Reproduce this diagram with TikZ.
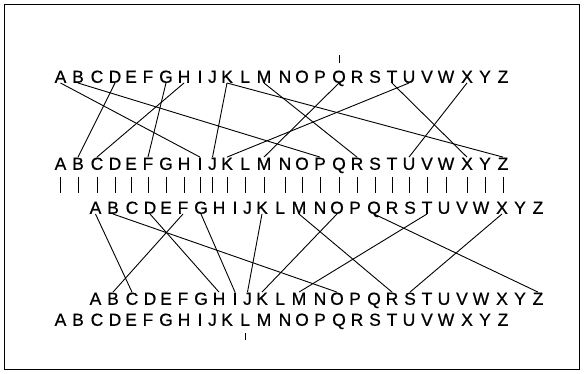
\documentclass[tikz,border=0pt]{standalone}
\usepackage{fontspec}
\setmainfont{Liberation Sans}
\newfontfamily\letterfont{Liberation Sans}[FakeBold=0.6]
\begin{document}
\begin{tikzpicture}[x=1pt,y=-1pt,
  letter/.style={inner sep=0pt,text height=12.5pt,text depth=0pt,font=\letterfont\fontsize{17.5}{17.5}\selectfont},
  wire/.style={line width=0.9pt}]
\useasboundingbox (0,0) rectangle (584,374);
\draw[line width=1pt] (4.5,4.5) rectangle (579.5,369.5);
\def\xs{A/60.5,B/78,C/97,D/115,E/131,F/148,G/166,H/184,I/200,J/212.5,K/227,L/245,M/264,N/285,O/302,P/320,Q/339,R/357,S/375,T/392,U/409,V/427,W/446,X/467,Y/485,Z/503}
\foreach \l/\x in \xs {
  \node[letter,anchor=south] (a\l) at (\x,83) {\l};
  \node[letter,anchor=south] (b\l) at (\x,170) {\l};
  \node[letter,anchor=south] (c\l) at ({\x+35},214) {\l};
  \node[letter,anchor=south] (d\l) at ({\x+35},305) {\l};
  \node[letter,anchor=south] (e\l) at (\x,326) {\l};
  \draw[wire] ([yshift=-7pt]b\l.south) -- ++(0,16);
}
\draw[wire] ([yshift=7pt]aQ.north) -- ++(0,-8);
\draw[wire] ([yshift=-7pt]eL.south) -- ++(0,7);
\foreach \s/\t in {A/I,B/P,D/B,G/F,H/C,K/J,K/Z,M/R,Q/M,T/X,U/K,X/U}
  \draw[wire] (a\s.south) -- (b\t.north);
\foreach \s/\t in {A/C,B/O,D/H,F/B,G/I,K/J,M/R,O/K,Q/Z,T/M,X/S}
  \draw[wire] (c\s.south) -- (d\t.north);
\end{tikzpicture}
\end{document}
